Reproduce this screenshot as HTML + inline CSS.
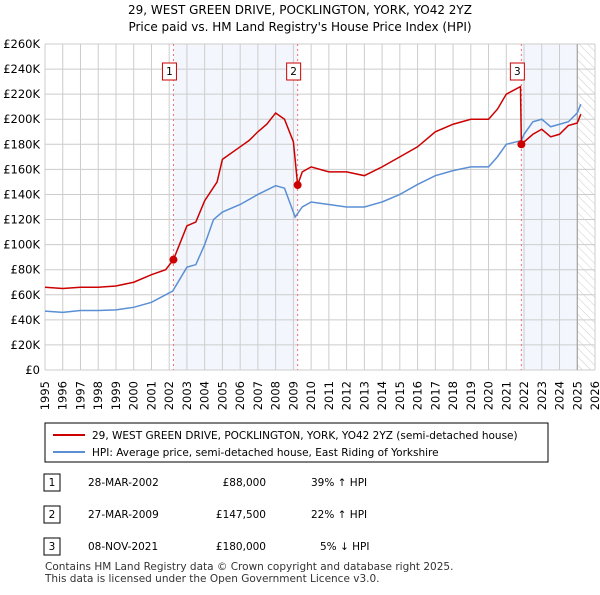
<!DOCTYPE html>
<html><head><meta charset="utf-8"><style>
body{margin:0;background:#fff;font-family:"Liberation Sans","DejaVu Sans",sans-serif;}
svg text{font-family:"DejaVu Sans","Liberation Sans",sans-serif;}
</style></head><body>
<svg id="c" width="600" height="590" viewBox="0 0 600 590">
<defs><pattern id="hatch" width="6" height="6" patternUnits="userSpaceOnUse" patternTransform="rotate(-45)"><line x1="0" y1="0" x2="0" y2="6" stroke="#ccc" stroke-width="1"/></pattern></defs>
<text x="300" y="14" text-anchor="middle" font-size="12">29, WEST GREEN DRIVE, POCKLINGTON, YORK, YO42 2YZ</text>
<text x="300" y="31" text-anchor="middle" font-size="12">Price paid vs. HM Land Registry's House Price Index (HPI)</text>
<g id="plot"></g>
<g>
<rect x="45" y="423" width="503" height="39" fill="#fff" stroke="#000"/>
<line x1="53" y1="435" x2="85" y2="435" stroke="#cc0000" stroke-width="2"/>
<text x="92" y="439" font-size="10.5">29, WEST GREEN DRIVE, POCKLINGTON, YORK, YO42 2YZ (semi-detached house)</text>
<line x1="53" y1="452" x2="85" y2="452" stroke="#5b8fd4" stroke-width="2"/>
<text x="92" y="456" font-size="10.5">HPI: Average price, semi-detached house, East Riding of Yorkshire</text>
</g>
<g font-size="10.5">
<rect x="44" y="474" width="16" height="17" fill="#fff" stroke="#000"/><text x="52" y="486" text-anchor="middle">1</text>
<text x="88" y="486">28-MAR-2002</text><text x="266" y="486" text-anchor="end">£88,000</text><text x="311" y="486">39% ↑ HPI</text>
<rect x="44" y="506" width="16" height="17" fill="#fff" stroke="#000"/><text x="52" y="518" text-anchor="middle">2</text>
<text x="88" y="518">27-MAR-2009</text><text x="266" y="518" text-anchor="end">£147,500</text><text x="311" y="518">22% ↑ HPI</text>
<rect x="44" y="538" width="16" height="17" fill="#fff" stroke="#000"/><text x="52" y="550" text-anchor="middle">3</text>
<text x="88" y="550">08-NOV-2021</text><text x="266" y="550" text-anchor="end">£180,000</text><text x="320" y="550">5% ↓ HPI</text>
</g>
<text x="45" y="570" font-size="10.5" fill="#333">Contains HM Land Registry data © Crown copyright and database right 2025.</text>
<text x="45" y="582" font-size="10.5" fill="#333">This data is licensed under the Open Government Licence v3.0.</text>
</svg>
<script>
const years=[1995,1996,1997,1998,1999,2000,2001,2002,2003,2004,2005,2006,2007,2008,2009,2010,2011,2012,2013,2014,2015,2016,2017,2018,2019,2020,2021,2022,2023,2024,2025,2026];
const yTicks=[0,20,40,60,80,100,120,140,160,180,200,220,240,260];
const hpiDates=[1995,1996,1997,1998,1999,2000,2001,2002.2,2003,2003.5,2004,2004.5,2005,2006,2007,2008,2008.5,2009.1,2009.5,2010,2011,2012,2013,2014,2015,2016,2017,2018,2019,2020,2020.5,2021,2021.85,2022,2022.5,2023,2023.5,2024,2024.5,2025,2025.2];
const hpiValues=[47,46,47.5,47.5,48,50,54,63,82,84,100,120,126,132,140,147,145,122,130,134,132,130,130,134,140,148,155,159,162,162,170,180,183,188,198,200,194,196,198,205,212];
const priceDates=[1995,1996,1997,1998,1999,2000,2001,2001.8,2002.24,2003,2003.5,2004,2004.7,2005,2006,2006.5,2007,2007.5,2008,2008.5,2009,2009.24,2009.5,2010,2011,2012,2013,2014,2015,2016,2017,2018,2019,2020,2020.5,2021,2021.8,2021.85,2022.5,2023,2023.5,2024,2024.5,2025,2025.2];
const priceValues=[66,65,66,66,67,70,76,80,88,115,118,135,150,168,178,183,190,196,205,200,182,147.5,158,162,158,158,155,162,170,178,190,196,200,200,208,220,226,180,188,192,186,188,195,197,204];
const saleDates=[2002.24,2009.24,2021.85];
const saleValues=[88,147.5,180];
const saleLabels=["1","2","3"];
const L=45,R=595,T=44,B=370;
const X=d=>L+(d-1995)/(2026-1995)*(R-L);
const Y=v=>B-v/260*(B-T);
const ns="http://www.w3.org/2000/svg",g=document.getElementById('plot');
function mk(t,a,p){const e=document.createElementNS(ns,t);for(const k in a)e.setAttribute(k,a[k]);(p||g).appendChild(e);return e;}
let e;
e=mk('rect',{x:X(saleDates[0]),y:T,width:X(saleDates[1])-X(saleDates[0]),height:B-T,fill:'#eef3fc',opacity:0.7});


e=mk('rect',{x:X(saleDates[2]),y:T,width:X(2025)-X(saleDates[2]),height:B-T,fill:'#eef3fc',opacity:0.7});


e=mk('rect',{x:X(2025),y:T,width:R-X(2025),height:B-T,fill:'url(#hatch)'});


years.forEach(y=>{e=mk('line',{x1:X(y),x2:X(y),y1:T,y2:B,stroke:'#ccc'});


const tx=X(y)+4,ty=B+11;
const t=mk('text',{x:tx,y:ty,'text-anchor':'end','font-size':11.5,transform:'rotate(-90 '+tx+' '+ty+')'});t.textContent=y;

});
yTicks.forEach(v=>{e=mk('line',{x1:L,x2:R,y1:Y(v),y2:Y(v),stroke:'#ccc'});


const t=mk('text',{x:L-5,y:Y(v)+4,'text-anchor':'end','font-size':11.5});t.textContent=v?'£'+v+'K':'£0';

});
e=mk('line',{x1:X(2025),x2:X(2025),y1:T,y2:B,stroke:'#999'});


saleDates.forEach((d,i)=>{e=mk('line',{x1:X(d),x2:X(d),y1:T,y2:B,stroke:'#f07070','stroke-dasharray':'2,3'});

});
e=mk('polyline',{points:hpiDates.map((d,i)=>X(d)+','+Y(hpiValues[i])).join(' '),fill:'none',stroke:'#5b8fd4','stroke-width':1.5});


e=mk('polyline',{points:priceDates.map((d,i)=>X(d)+','+Y(priceValues[i])).join(' '),fill:'none',stroke:'#cc0000','stroke-width':1.5});


saleDates.forEach((d,i)=>{e=mk('circle',{cx:X(d),cy:Y(saleValues[i]),r:4,fill:'#cc0000'});


const bx=X(d)-4;
e=mk('rect',{x:bx-7,y:63,width:14,height:17,fill:'#fff',stroke:'#cc0000'});


const t=mk('text',{x:bx,y:75,'text-anchor':'middle','font-size':10.5});t.textContent=saleLabels[i];

});
</script>
</body></html>
